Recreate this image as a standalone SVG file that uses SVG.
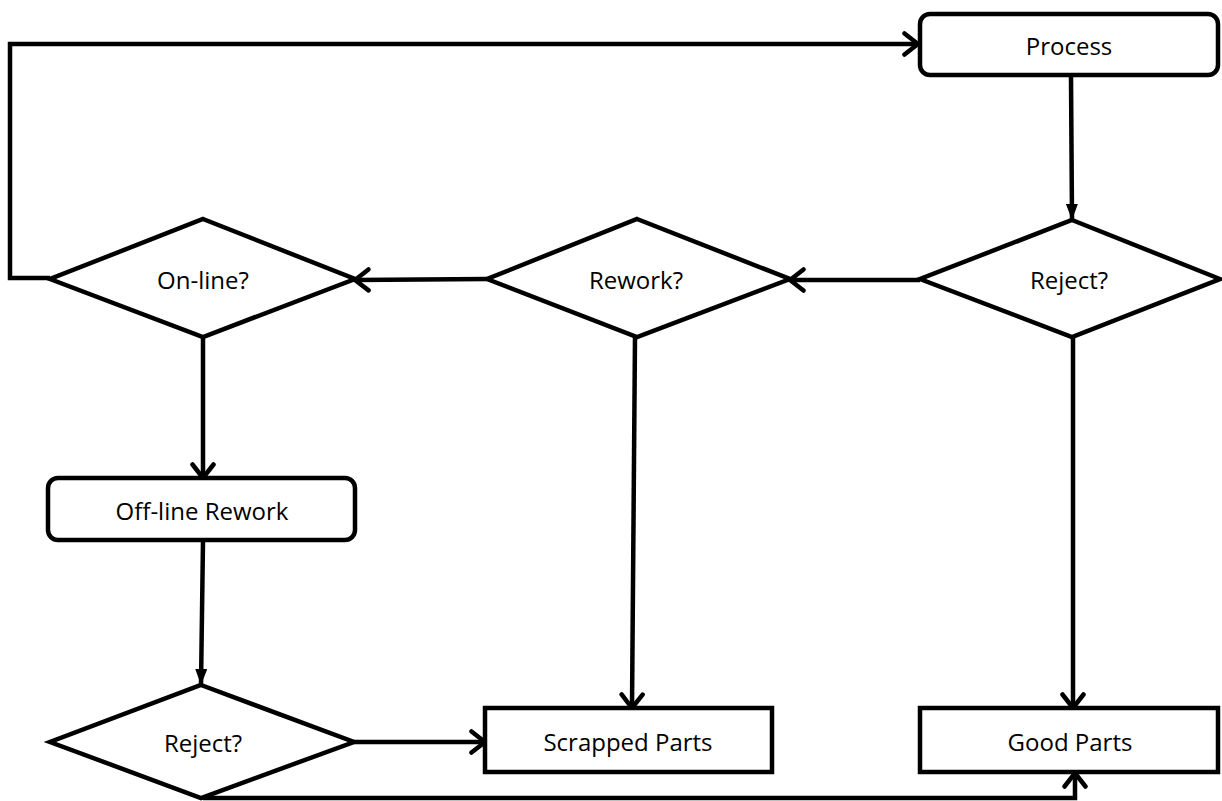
<svg xmlns="http://www.w3.org/2000/svg" width="1222" height="801" viewBox="0 0 1222 801">
<style>
.shape{fill:#fff;stroke:#000;stroke-width:4.5;stroke-linejoin:miter}
.lbl{font-family:"Open Sans","Liberation Sans",sans-serif;font-size:24px;fill:#000;text-anchor:middle;dominant-baseline:central}
.con{fill:none;stroke:#000;stroke-width:4.5}
</style>
<defs>
<marker id="chev" viewBox="0 0 18 26" refX="16" refY="13" markerWidth="18" markerHeight="26" markerUnits="userSpaceOnUse" orient="auto">
<path d="M2.5,2.5 L16,13 L2.5,23.5" fill="none" stroke="#000" stroke-width="4.5" stroke-linecap="round" stroke-linejoin="miter"/>
</marker>
<marker id="tri" viewBox="0 0 16 12" refX="16" refY="6" markerWidth="16" markerHeight="12" markerUnits="userSpaceOnUse" orient="auto">
<path d="M0,0 L16,6 L0,12 z" fill="#000"/>
</marker>
</defs>
<rect width="1222" height="801" fill="#fff"/>
<g id="connectors">
<path class="con" d="M1071,77 L1072,220" marker-end="url(#tri)"/>
<path class="con" d="M920,280 L790,280" marker-end="url(#chev)"/>
<path class="con" d="M487,279 L355,280" marker-end="url(#chev)"/>
<path class="con" d="M50,278 L10,278 L10,44 L918,44" marker-end="url(#chev)"/>
<path class="con" d="M203,337 L203,478" marker-end="url(#chev)"/>
<path class="con" d="M203,541 L201,685" marker-end="url(#tri)"/>
<path class="con" d="M354,742 L485,742" marker-end="url(#chev)"/>
<path class="con" d="M635,337 L632,708" marker-end="url(#chev)"/>
<path class="con" d="M1073,337 L1073,708" marker-end="url(#chev)"/>
<path class="con" d="M203,798 L1075,798 L1075,773" marker-end="url(#chev)"/>
</g>
<g id="process">
<rect class="shape" x="920" y="14" width="298" height="61" rx="10"/>
<text class="lbl" x="1069" y="45">Process</text>
</g>
<g id="reject1">
<polygon class="shape" points="1072,220 1220,279 1072,337 920,279"/>
<text class="lbl" x="1069" y="279">Reject?</text>
</g>
<g id="rework">
<polygon class="shape" points="637,219 790,279 637,337 487,279"/>
<text class="lbl" x="636" y="279">Rework?</text>
</g>
<g id="online">
<polygon class="shape" points="203,219 355,279 203,337 50,279"/>
<text class="lbl" x="203" y="279">On-line?</text>
</g>
<g id="offline">
<rect class="shape" x="48" y="478" width="307" height="62" rx="10"/>
<text class="lbl" x="202" y="510">Off-line Rework</text>
</g>
<g id="reject2">
<polygon class="shape" points="201,685 354,742 201,798 50,742"/>
<text class="lbl" x="203" y="742">Reject?</text>
</g>
<g id="scrapped">
<rect class="shape" x="485" y="708" width="287" height="64"/>
<text class="lbl" x="628" y="741">Scrapped Parts</text>
</g>
<g id="good">
<rect class="shape" x="920" y="708" width="298" height="64"/>
<text class="lbl" x="1070" y="741">Good Parts</text>
</g>
</svg>
